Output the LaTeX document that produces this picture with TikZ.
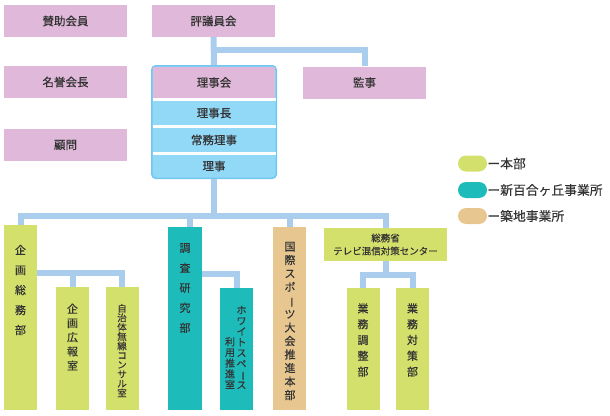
\documentclass[tikz,border=0pt]{standalone}
\usepackage{fontspec}
\setmainfont{Noto Sans CJK JP}[RawFeature={embolden=0.3}]
\usepackage{graphicx}
\definecolor{kaiin}{HTML}{E0B9DA}
\definecolor{honbu}{HTML}{D3E06C}
\definecolor{shinyuri}{HTML}{1DBCBA}
\definecolor{tsukiji}{HTML}{E7C78F}
\definecolor{senline}{HTML}{AACDEE}
\definecolor{rijifill}{HTML}{92D8F7}
\definecolor{rijiedge}{HTML}{72C6EF}
\definecolor{moji}{HTML}{333333}
\newcommand{\tatebo}{\rotatebox[origin=c]{-90}{ー}}

\begin{document}
\begin{tikzpicture}[x=1pt, y=-1pt,
    every node/.style={inner sep=0pt, text=moji},
    box/.style={minimum width=123pt, minimum height=32pt, font=\fontsize{11.5}{14}\selectfont},
    pinkbox/.style={box, fill=kaiin},
    tallbox/.style={fill=#1, minimum width=33pt},
    vtxt/.style args={#1/#2}{align=center, font=\fontsize{#1}{#2}\selectfont},
    conn/.style={draw=senline, line width=6pt},
    pill/.style={fill=#1, rounded corners=8pt, minimum width=29pt, minimum height=16pt}]
  \useasboundingbox (0,0) rectangle (610,415);

  \node[pinkbox] (sanjo) at (65.5,21) {賛助会員};
  \node[pinkbox] (hyogi) at (213.5,21) {評議員会};
  \node[pinkbox] (meiyo) at (65.5,82) {名誉会長};
  \node[pinkbox] (kanji) at (364.5,82.5) {監事};
  \node[pinkbox] (komon) at (65.5,145) {顧問};

  % rijikai block
  \node[draw=rijiedge, line width=1.5pt, fill=rijifill, rounded corners=4pt,
        minimum width=124.5pt, minimum height=112.5pt] (rijiblock) at (214,122) {};
  \node[box, fill=kaiin, minimum width=122pt, minimum height=31pt] (rijikai) at (214,82.5) {理事会};
  \foreach \y in {99.5,126.5,153.5}
    \draw[white, line width=3pt] (152.5,\y) -- (275.5,\y);
  \node[box, minimum height=0pt] (rijicho) at (214,113) {理事長};
  \node[box, minimum height=0pt] (jomu) at (214,140) {常務理事};
  \node[box, minimum height=0pt] (riji) at (214,166) {理事};

  \node[tallbox=honbu, minimum height=185pt] (kikaku) at (20.5,317.5) {};
  \node[tallbox=honbu, minimum height=123pt] (koho) at (72.5,348.5) {};
  \node[tallbox=honbu, minimum height=123pt] (jichi) at (122,348.5) {};
  \node[tallbox=shinyuri, minimum width=34pt, minimum height=183pt] (chosa) at (185,318.5) {};
  \node[tallbox=shinyuri, minimum height=122pt] (white) at (236.5,349) {};
  \node[tallbox=tsukiji, minimum height=183pt] (kokusai) at (289.5,318.5) {};
  \node[box, fill=honbu, minimum height=33pt, align=center,
        font=\fontsize{9.5}{13}\selectfont] (center) at (385.5,244.5) {総務省\\テレビ混信対策センター};
  \node[tallbox=honbu, minimum height=122pt] (chosei) at (363,349) {};
  \node[tallbox=honbu, minimum height=122pt] (taisaku) at (412.5,349) {};

  \node[vtxt=11/20] (kikakutxt) at (20.5,290) {企\\画\\総\\務\\部};
  \node[vtxt=11/14.2] (kohotxt) at (72.5,337) {企\\画\\広\\報\\室};
  \node[vtxt=9.5/9.4] (jichitxt) at (122,350.5) {自\\治\\体\\無\\線\\コ\\ン\\サ\\ル\\室};
  \node[vtxt=11/20] (chosatxt) at (185,288) {調\\査\\研\\究\\部};
  \node[vtxt=10/10.7] (whitetxta) at (241.5,347.5) {ホ\\ワ\\イ\\ト\\ス\\ペ\\ \tatebo\\ス};
  \node[vtxt=10/10.7] (whitetxtb) at (230,363) {利\\用\\推\\進\\室};
  \node[vtxt=11/13.5] (kokusaitxt) at (290,321) {国\\際\\ス\\ポ\\ \tatebo\\ツ\\大\\会\\推\\進\\本\\部};
  \node[vtxt=11/15.8] (choseitxt) at (363,340) {業\\務\\調\\整\\部};
  \node[vtxt=11/15.8] (taisakutxt) at (412.5,340) {業\\務\\対\\策\\部};

  % connectors
  \coordinate (hyogibr) at (214,50);
  \coordinate (bus) at (214,216);
  \coordinate (kikakubr) at (37,273);
  \coordinate (chosabr) at (202,274);
  \coordinate (centerbr) at (385.5,275);
  \draw[conn] (hyogi.south) -- (rijiblock.north);
  \draw[conn] (hyogibr) -| (kanji.north);
  \draw[conn] (rijiblock.south) -- (bus);
  \draw[conn] (kikaku.north) |- (bus) -| (center.north);
  \draw[conn] ([xshift=5pt]chosa.north) -- ([xshift=5pt]chosa.north |- bus);
  \draw[conn] (kokusai.north) -- (kokusai.north |- bus);
  \draw[conn] (kikakubr) -| (jichi.north);
  \draw[conn] (koho.north) -- (koho.north |- kikakubr);
  \draw[conn] (chosabr) -| (white.north);
  \draw[conn] (center.south) -- (centerbr);
  \draw[conn] (chosei.north) |- (centerbr) -| (taisaku.north);

  % legend
  \node[pill=honbu] (honbukey) at (472.5,163.5) {};
  \node[pill=shinyuri] (shinyurikey) at (472.5,190) {};
  \node[pill=tsukiji] (tsukijikey) at (472.5,216) {};
  \node[anchor=west, font=\fontsize{12.8}{15}\selectfont] (honbulbl) at (honbukey.east) {ー本部};
  \node[anchor=west, font=\fontsize{12.8}{15}\selectfont] (shinyurilbl) at (shinyurikey.east) {ー新百合ヶ丘事業所};
  \node[anchor=west, font=\fontsize{12.8}{15}\selectfont] (tsukijilbl) at (tsukijikey.east) {ー築地事業所};
\end{tikzpicture}
\end{document}
